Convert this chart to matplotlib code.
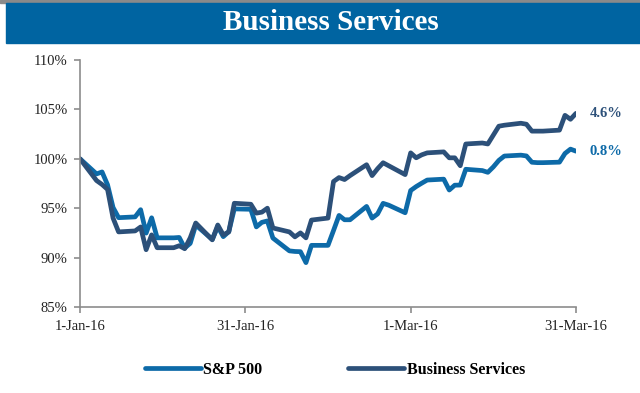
import matplotlib
matplotlib.use("Agg")
import matplotlib.pyplot as plt
from matplotlib.patches import Rectangle
import pandas as pd

# trading days (weekdays, holidays carried forward), Q1 2016
dates = pd.bdate_range("2016-01-01", "2016-03-31")

sp500 = [100.0,
         98.47, 98.67, 97.37, 95.07, 94.04,
         94.12, 94.85, 92.48, 94.03, 92.00,
         92.00, 92.04, 90.97, 91.44, 93.30,
         91.84, 93.14, 92.12, 92.63, 94.93,
         94.89, 93.11, 93.57, 93.71, 91.98,
         90.68, 90.62, 90.60, 89.49, 91.24,
         91.24, 92.74, 94.27, 93.83, 93.83,
         95.18, 94.00, 94.42, 95.49, 95.31,
         94.54, 96.79, 97.19, 97.53, 97.85,
         97.94, 96.84, 97.33, 97.34, 98.94,
         98.81, 98.63, 99.18, 99.84, 100.28,
         100.37, 100.29, 99.65, 99.61, 99.61,
         99.66, 100.54, 100.98, 100.77]

business = [100.0,
            97.8, 97.4, 96.9, 94.0, 92.6,
            92.7, 93.1, 90.8, 92.3, 91.0,
            91.0, 91.2, 90.9, 92.0, 93.5,
            91.8, 93.3, 92.3, 92.6, 95.5,
            95.4, 94.5, 94.6, 95.0, 93.0,
            92.6, 92.1, 92.5, 92.0, 93.8,
            94.0, 97.7, 98.1, 97.9, 98.3,
            99.4, 98.3, 99.0, 99.6, 99.3,
            98.4, 100.6, 100.1, 100.4, 100.6,
            100.7, 100.1, 100.1, 99.3, 101.5,
            101.6, 101.5, 102.4, 103.3, 103.4,
            103.6, 103.5, 102.8, 102.8, 102.8,
            102.9, 104.4, 104.0, 104.6]

tick_dates = pd.to_datetime(["2016-01-01", "2016-01-31", "2016-03-01", "2016-03-31"])
tick_labels = ["1-Jan-16", "31-Jan-16", "1-Mar-16", "31-Mar-16"]
y_ticks = [85, 90, 95, 100, 105, 110]

c_sp = "#0d6aa8"
c_bs = "#2c5079"
serif = ["Liberation Serif", "DejaVu Serif"]

fig = plt.figure(figsize=(6.4, 3.93), dpi=100)
ax = fig.add_axes([80 / 640, 1 - 307 / 393, 496 / 640, 247 / 393])

# header bar
fig.patches.append(Rectangle((0, 1 - 3 / 393), 1, 3 / 393, transform=fig.transFigure,
                             color="#8a8a8a", zorder=0))
fig.patches.append(Rectangle((6 / 640, 1 - 43 / 393), 1, 40 / 393, transform=fig.transFigure,
                             color="#0064a1", zorder=0))
fig.text(0.517, 1 - 23 / 393, "Business Services", ha="center", va="center",
         color="white", fontsize=21, fontweight="bold", family=serif)

ax.plot(dates, sp500, color=c_sp, lw=3.4, solid_joinstyle="round", solid_capstyle="round",
        label="S&P 500")
ax.plot(dates, business, color=c_bs, lw=3.4, solid_joinstyle="round", solid_capstyle="round",
        label="Business Services")

ax.annotate(f"{business[-1] - 100:.1f}%", (dates[-1], business[-1]), xytext=(10, 0),
            textcoords="offset points", va="center", ha="left", color=c_bs,
            fontsize=10.5, fontweight="bold", family=serif)
ax.annotate(f"{sp500[-1] - 100:.1f}%", (dates[-1], sp500[-1]), xytext=(10, 0),
            textcoords="offset points", va="center", ha="left", color=c_sp,
            fontsize=10.5, fontweight="bold", family=serif)

ax.set_xlim(tick_dates[0], tick_dates[-1])
ax.set_ylim(85, 110)
ax.set_xticks(tick_dates)
ax.set_xticklabels(tick_labels)
ax.set_yticks(y_ticks)
ax.set_yticklabels([f"{v}%" for v in y_ticks])

for s in ["top", "right"]:
    ax.spines[s].set_visible(False)
for s in ["left", "bottom"]:
    ax.spines[s].set_color("#8c8c8c")
    ax.spines[s].set_linewidth(1.2)
ax.tick_params(axis="both", colors="#8c8c8c", length=4, width=1.2, direction="out",
               labelcolor="#222222", labelsize=10.5)
ax.tick_params(axis="y", pad=5)
ax.tick_params(axis="x", pad=5)
for lbl in ax.get_xticklabels() + ax.get_yticklabels():
    lbl.set_family(serif)

leg = fig.legend(loc="center", bbox_to_anchor=(0.523, 1 - 370 / 393), ncol=2,
                 frameon=False, handlelength=3.5, handletextpad=0.15, columnspacing=5.4,
                 prop={"family": serif, "weight": "bold", "size": 11.5})

fig.savefig("out.png", dpi=100)
